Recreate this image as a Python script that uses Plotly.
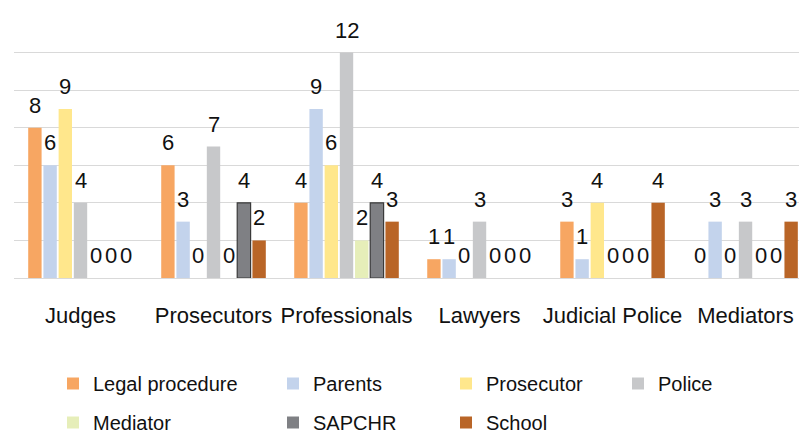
import plotly.graph_objects as go

categories = ["Judges", "Prosecutors", "Professionals", "Lawyers", "Judicial Police", "Mediators"]
series_names = ["Legal procedure", "Parents", "Prosecutor", "Police", "Mediator", "SAPCHR", "School"]
legal_procedure = [8, 6, 4, 1, 3, 0]
parents = [6, 3, 9, 1, 1, 3]
prosecutor = [9, 0, 6, 0, 4, 0]
police = [4, 7, 12, 3, 0, 3]
mediator = [0, 0, 2, 0, 0, 0]
sapchr = [0, 4, 4, 0, 0, 0]
school = [0, 2, 3, 0, 4, 3]
y_ticks = [0, 2, 4, 6, 8, 10, 12, 14]

series_values = [legal_procedure, parents, prosecutor, police, mediator, sapchr, school]
colors = ["#F7A662", "#C3D3EC", "#FFE78C", "#C7C8CA", "#E6EEB9", "#7F8084", "#B96527"]
outline = [None, None, None, None, None, "#3A3A3A", None]
legend_ids = ["legend", "legend2", "legend3", "legend4", "legend", "legend2", "legend3"]

FONT = "Liberation Sans, Arial, sans-serif"
BARGAP = 0.2
n = len(series_names)

fig = go.Figure()
for i, (name, vals) in enumerate(zip(series_names, series_values)):
    if outline[i]:
        line = dict(color=outline[i], width=[1.2 if v > 0 else 0 for v in vals])
    else:
        line = dict(width=0)
    fig.add_trace(go.Bar(
        x=categories, y=vals, name=name,
        marker=dict(color=colors[i], line=line),
        legend=legend_ids[i], legendgroup=name,
        hoverinfo="skip",
    ))

slot = (1 - BARGAP) / n
annotations = []
for i, vals in enumerate(series_values):
    for j, v in enumerate(vals):
        annotations.append(dict(
            x=j + (i - (n - 1) / 2) * slot, y=v, xref="x", yref="y",
            text=str(v), showarrow=False, yanchor="bottom", yshift=8,
            font=dict(family=FONT, size=22, color="#111111"),
        ))

PLOT_L, PLOT_R, PLOT_T, PLOT_B = 14, 799, 15, 278
def px_x(p):
    return (p - PLOT_L) / (PLOT_R - PLOT_L)
def px_y(p):
    return (PLOT_B - p) / (PLOT_B - PLOT_T)

legend_common = dict(orientation="v", xanchor="left", yanchor="top",
                     font=dict(family=FONT, size=20, color="#111111"),
                     bgcolor="rgba(0,0,0,0)", tracegroupgap=10, traceorder="grouped",
                     itemwidth=30)
text_starts = [93, 313, 486, 658]
legend_layout = {}
for k, lid in enumerate(["legend", "legend2", "legend3", "legend4"]):
    legend_layout[lid] = dict(legend_common, x=px_x(text_starts[k] - 40), y=px_y(364))

fig.update_layout(
    width=799, height=437,
    margin=dict(l=PLOT_L, r=0, t=PLOT_T, b=437 - PLOT_B, autoexpand=False),
    plot_bgcolor="white", paper_bgcolor="white",
    barmode="group", bargap=BARGAP, bargroupgap=0.12,
    showlegend=True,
    annotations=annotations,
    xaxis=dict(range=[-0.5, 5.402], showgrid=False, ticks="", showline=False,
               tickangle=0, automargin=False,
               tickfont=dict(family=FONT, size=22, color="#111111"), ticklabelstandoff=22),
    yaxis=dict(range=[0, 14], tickvals=y_ticks, showticklabels=False, showgrid=True,
               automargin=False,
               gridcolor="#D9D9D9", gridwidth=1.4, zeroline=True, zerolinecolor="#D9D9D9",
               zerolinewidth=1.4),
    **legend_layout,
)

fig.write_html("out.html", config={"displayModeBar": False},
               post_script="document.body.style.margin='0';")
